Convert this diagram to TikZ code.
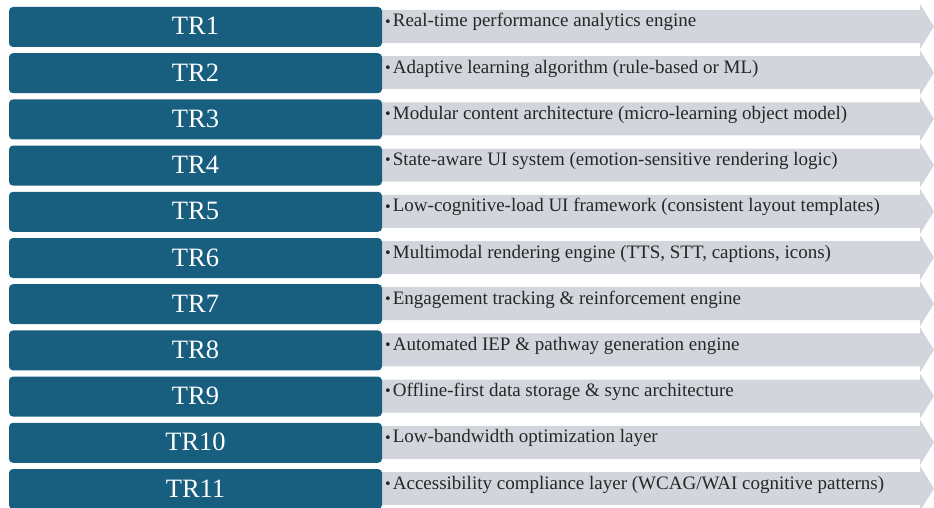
\documentclass[tikz,border=0pt]{standalone}
\usepackage{fontspec}
\setmainfont{Liberation Serif}
\newfontfamily\bulletfont{DejaVu Sans}
\definecolor{trblue}{RGB}{23,94,127}
\definecolor{argray}{RGB}{210,214,220}
\tikzset{
  trbox/.style={fill=trblue, rounded corners=4pt},
  trarrow/.style={fill=argray},
  trlabel/.style={anchor=base, inner sep=0pt, text=white, font=\fontsize{26.5}{30}\selectfont},
  trdesc/.style={anchor=base west, inner sep=0pt, text=black!85, font=\fontsize{19}{22}\selectfont}
}
\begin{document}
\begin{tikzpicture}[x=1pt,y=-1pt]
\useasboundingbox (0,0) rectangle (934,508);
\foreach \i/\t in {
  1/{Real-time performance analytics engine},
  2/{Adaptive learning algorithm (rule-based or ML)},
  3/{Modular content architecture (micro-learning object model)},
  4/{State-aware UI system (emotion-sensitive rendering logic)},
  5/{Low-cognitive-load UI framework (consistent layout templates)},
  6/{Multimodal rendering engine (TTS, STT, captions, icons)},
  7/{Engagement tracking \& reinforcement engine},
  8/{Automated IEP \& pathway generation engine},
  9/{Offline-first data storage \& sync architecture},
  10/{Low-bandwidth optimization layer},
  11/{Accessibility compliance layer (WCAG/WAI cognitive patterns)}}{
  \pgfmathsetmacro\rowtop{7+46.2*(\i-1)}
  \fill[trarrow] (370,\rowtop+3) -- (920,\rowtop+3) -- (920,\rowtop-3) -- (934,\rowtop+19.5)
     -- (920,\rowtop+42) -- (920,\rowtop+36) -- (370,\rowtop+36) -- cycle;
  \fill[trbox] (9,\rowtop) rectangle (382,\rowtop+40);
  \node[trlabel] (tr\i) at (195.5,\rowtop+28) {TR\i};
  \node[trdesc] (d\i) at (384,\rowtop+20) {\raisebox{0.8pt}{\bulletfont\fontsize{13}{13}\selectfont •}\hspace{1pt}\t};
}
\end{tikzpicture}
\end{document}
